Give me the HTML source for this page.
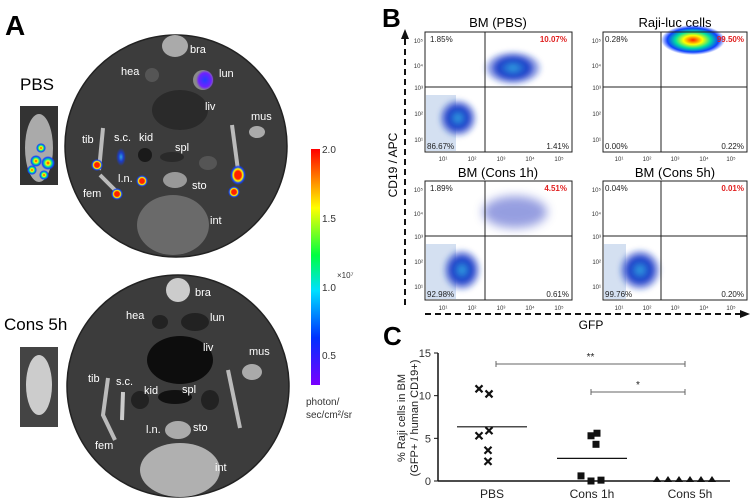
<!DOCTYPE html>
<html><head><meta charset="utf-8"><style>
body{margin:0;background:#fff;width:755px;height:503px;overflow:hidden;font-family:"Liberation Sans",sans-serif}
svg{position:absolute;left:0;top:0}
</style></head><body>
<svg width="755" height="503" viewBox="0 0 755 503">
<defs>
<filter id="bl" x="-50%" y="-50%" width="200%" height="200%"><feGaussianBlur stdDeviation="5"/></filter>
<filter id="bl2" x="-50%" y="-50%" width="200%" height="200%"><feGaussianBlur stdDeviation="2"/></filter>
<linearGradient id="cb" x1="0" y1="1" x2="0" y2="0">
<stop offset="0" stop-color="#7a00ff"/><stop offset="0.2" stop-color="#0030ff"/><stop offset="0.4" stop-color="#00e0ff"/><stop offset="0.55" stop-color="#00ff40"/><stop offset="0.75" stop-color="#ffff00"/><stop offset="1" stop-color="#ff0000"/>
</linearGradient>
<radialGradient id="hot"><stop offset="0" stop-color="#ff2000"/><stop offset="0.4" stop-color="#ff2000"/><stop offset="0.6" stop-color="#ffff00"/><stop offset="0.8" stop-color="#1040ff"/><stop offset="1" stop-color="#1040ff" stop-opacity="0"/></radialGradient>
<radialGradient id="hot2"><stop offset="0" stop-color="#ff2000"/><stop offset="0.3" stop-color="#ffff00"/><stop offset="0.55" stop-color="#00e0a0"/><stop offset="0.8" stop-color="#1040ff"/><stop offset="1" stop-color="#1040ff" stop-opacity="0"/></radialGradient>
<radialGradient id="blue"><stop offset="0" stop-color="#30a0e0"/><stop offset="0.5" stop-color="#1c3cc8"/><stop offset="1" stop-color="#1c3cc8" stop-opacity="0"/></radialGradient>
<radialGradient id="purp"><stop offset="0" stop-color="#2040ff"/><stop offset="0.7" stop-color="#7020ff"/><stop offset="1" stop-color="#7020ff" stop-opacity="0"/></radialGradient>
</defs>

<g>
<text x="5" y="35" font-size="28" font-weight="bold">A</text>
<text x="20" y="90" font-size="17">PBS</text>
<rect x="20" y="106" width="38" height="79" fill="#333"/>
<ellipse cx="39" cy="148" rx="14" ry="34" fill="#aaa"/>
<circle cx="41" cy="148" r="5" fill="url(#hot2)"/><circle cx="36" cy="161" r="6" fill="url(#hot2)"/><circle cx="48" cy="163" r="7" fill="url(#hot2)"/><circle cx="32" cy="170" r="5" fill="url(#hot2)"/><circle cx="44" cy="175" r="5" fill="url(#hot2)"/>
<circle cx="176" cy="146" r="111" fill="#3c3c3c" stroke="#222" stroke-width="1.5"/>
<g fill="#8a8a8a">
<ellipse cx="175" cy="46" rx="13" ry="11" fill="#aaa"/><ellipse cx="152" cy="75" rx="7" ry="7" fill="#555"/><ellipse cx="203" cy="80" rx="10" ry="10"/>
<ellipse cx="180" cy="110" rx="28" ry="20" fill="#2a2a2a"/><ellipse cx="257" cy="132" rx="8" ry="6" fill="#aaa"/>
<path d="M103 128 L99 170" stroke="#bbb" stroke-width="4"/><path d="M100 175 L118 193" stroke="#bbb" stroke-width="4"/>
<path d="M232 125 L238 170" stroke="#bbb" stroke-width="4"/>
<ellipse cx="145" cy="155" rx="7" ry="7" fill="#1a1a1a"/><ellipse cx="172" cy="157" rx="12" ry="5" fill="#2a2a2a"/><ellipse cx="208" cy="163" rx="9" ry="7" fill="#555"/>
<ellipse cx="175" cy="180" rx="12" ry="8" fill="#999"/><ellipse cx="173" cy="225" rx="36" ry="30" fill="#6a6a6a"/>
</g>
<ellipse cx="205" cy="80" rx="9" ry="10" fill="url(#purp)"/>
<ellipse cx="121" cy="157" rx="5" ry="9" fill="url(#blue)"/>
<circle cx="97" cy="165" r="6" fill="url(#hot)"/><circle cx="117" cy="194" r="6" fill="url(#hot)"/>
<circle cx="142" cy="181" r="6" fill="url(#hot)"/><ellipse cx="238" cy="175" rx="8" ry="10" fill="url(#hot)"/><circle cx="234" cy="192" r="6" fill="url(#hot)"/>
<g fill="#fff" font-size="11">
<text x="190" y="53">bra</text><text x="121" y="75">hea</text><text x="219" y="77">lun</text><text x="205" y="110">liv</text><text x="251" y="120">mus</text>
<text x="82" y="143">tib</text><text x="114" y="141">s.c.</text><text x="139" y="141">kid</text><text x="175" y="151">spl</text>
<text x="83" y="197">fem</text><text x="118" y="182">l.n.</text><text x="192" y="189">sto</text><text x="210" y="224">int</text>
</g>
<text x="4" y="330" font-size="17">Cons 5h</text>
<rect x="20" y="347" width="38" height="80" fill="#444"/>
<ellipse cx="39" cy="385" rx="13" ry="30" fill="#ccc"/>
<circle cx="178" cy="386" r="111" fill="#3c3c3c" stroke="#222" stroke-width="1.5"/>
<g fill="#999">
<ellipse cx="178" cy="290" rx="12" ry="12" fill="#ccc"/><ellipse cx="160" cy="322" rx="8" ry="7" fill="#222"/><ellipse cx="195" cy="322" rx="14" ry="9" fill="#222"/>
<ellipse cx="180" cy="360" rx="33" ry="24" fill="#0d0d0d"/><ellipse cx="252" cy="372" rx="10" ry="8" fill="#aaa"/>
<path d="M108 378 L103 415 L115 440" stroke="#bbb" stroke-width="4" fill="none"/><path d="M123 392 L122 420" stroke="#ccc" stroke-width="4"/><path d="M228 370 L240 428" stroke="#bbb" stroke-width="4"/>
<ellipse cx="140" cy="400" rx="9" ry="9" fill="#222"/><ellipse cx="175" cy="397" rx="17" ry="7" fill="#111"/><ellipse cx="210" cy="400" rx="9" ry="10" fill="#222"/>
<ellipse cx="178" cy="430" rx="13" ry="9" fill="#aaa"/><ellipse cx="180" cy="470" rx="40" ry="27" fill="#b0b0b0"/>
</g>
<g fill="#fff" font-size="11">
<text x="195" y="296">bra</text><text x="126" y="319">hea</text><text x="210" y="321">lun</text><text x="203" y="351">liv</text><text x="249" y="355">mus</text>
<text x="88" y="382">tib</text><text x="116" y="385">s.c.</text><text x="144" y="394">kid</text><text x="182" y="393">spl</text>
<text x="95" y="449">fem</text><text x="146" y="433">l.n.</text><text x="193" y="431">sto</text><text x="215" y="471">int</text>
</g>
<rect x="311" y="149" width="9" height="236" fill="url(#cb)"/>
<g font-size="10" fill="#333"><text x="322" y="153">2.0</text><text x="322" y="222">1.5</text><text x="337" y="278" font-size="8">×10⁷</text><text x="322" y="291">1.0</text><text x="322" y="359">0.5</text>
<text x="306" y="405">photon/</text><text x="306" y="418">sec/cm²/sr</text></g>
</g>

<g>
<text x="382" y="27" font-size="26" font-weight="bold">B</text>
<g font-size="13" text-anchor="middle"><text x="498" y="27">BM (PBS)</text><text x="675" y="27">Raji-luc cells</text><text x="498" y="177">BM (Cons 1h)</text><text x="675" y="177">BM (Cons 5h)</text></g>
<g id="plots">
<rect x="426" y="95" width="30" height="56" fill="#b8cce8" opacity="0.6"/>
<ellipse cx="458" cy="118" rx="20" ry="20" fill="url(#blue)" filter="url(#bl2)"/><ellipse cx="513" cy="68" rx="30" ry="18" fill="url(#blue)" filter="url(#bl2)"/>
<ellipse cx="693" cy="40" rx="32" ry="15" fill="url(#hot2)"/>
<rect x="426" y="244" width="30" height="55" fill="#b8cce8" opacity="0.6"/>
<ellipse cx="462" cy="270" rx="20" ry="22" fill="url(#blue)" filter="url(#bl2)"/><ellipse cx="515" cy="212" rx="32" ry="16" fill="#4050c8" opacity="0.55" filter="url(#bl)"/>
<rect x="604" y="244" width="22" height="55" fill="#b8cce8" opacity="0.6"/>
<ellipse cx="640" cy="270" rx="22" ry="22" fill="url(#blue)" filter="url(#bl2)"/>
<g fill="none" stroke="#222" stroke-width="1">
<rect x="425" y="32" width="147" height="120"/><rect x="603" y="32" width="144" height="120"/>
<rect x="425" y="181" width="147" height="119"/><rect x="603" y="181" width="144" height="119"/>
<line x1="485" y1="32" x2="485" y2="152"/><line x1="425" y1="87" x2="572" y2="87"/>
<line x1="661" y1="32" x2="661" y2="152"/><line x1="603" y1="87" x2="747" y2="87"/>
<line x1="485" y1="181" x2="485" y2="300"/><line x1="425" y1="236" x2="572" y2="236"/>
<line x1="661" y1="181" x2="661" y2="300"/><line x1="603" y1="236" x2="747" y2="236"/>
</g>
<g font-size="8" fill="#222">
<text x="430" y="42">1.85%</text><text x="567" y="42" text-anchor="end" fill="#e02020" font-weight="bold">10.07%</text><text x="427" y="149">86.67%</text><text x="569" y="149" text-anchor="end">1.41%</text>
<text x="605" y="42">0.28%</text><text x="744" y="42" text-anchor="end" fill="#e02020" font-weight="bold">99.50%</text><text x="605" y="149">0.00%</text><text x="744" y="149" text-anchor="end">0.22%</text>
<text x="430" y="191">1.89%</text><text x="567" y="191" text-anchor="end" fill="#e02020" font-weight="bold">4.51%</text><text x="427" y="297">92.98%</text><text x="569" y="297" text-anchor="end">0.61%</text>
<text x="605" y="191">0.04%</text><text x="744" y="191" text-anchor="end" fill="#e02020" font-weight="bold">0.01%</text><text x="605" y="297">99.76%</text><text x="744" y="297" text-anchor="end">0.20%</text>
</g>
<g font-size="6" fill="#333" text-anchor="middle">
<text x="443" y="161">10¹</text><text x="472" y="161">10²</text><text x="501" y="161">10³</text><text x="530" y="161">10⁴</text><text x="559" y="161">10⁵</text>
<text x="619" y="161">10¹</text><text x="647" y="161">10²</text><text x="675" y="161">10³</text><text x="704" y="161">10⁴</text><text x="731" y="161">10⁵</text>
<text x="443" y="310">10¹</text><text x="472" y="310">10²</text><text x="501" y="310">10³</text><text x="530" y="310">10⁴</text><text x="559" y="310">10⁵</text>
<text x="619" y="310">10¹</text><text x="647" y="310">10²</text><text x="675" y="310">10³</text><text x="704" y="310">10⁴</text><text x="731" y="310">10⁵</text>
</g>
<g font-size="6" fill="#333" text-anchor="end">
<text x="423" y="43">10⁵</text><text x="423" y="68">10⁴</text><text x="423" y="90">10³</text><text x="423" y="116">10²</text><text x="423" y="142">10¹</text>
<text x="601" y="43">10⁵</text><text x="601" y="68">10⁴</text><text x="601" y="90">10³</text><text x="601" y="116">10²</text><text x="601" y="142">10¹</text>
<text x="423" y="192">10⁵</text><text x="423" y="216">10⁴</text><text x="423" y="239">10³</text><text x="423" y="264">10²</text><text x="423" y="289">10¹</text>
<text x="601" y="192">10⁵</text><text x="601" y="216">10⁴</text><text x="601" y="239">10³</text><text x="601" y="264">10²</text><text x="601" y="289">10¹</text>
</g>
</g>
<line x1="405" y1="305" x2="405" y2="38" stroke="#111" stroke-width="2" stroke-dasharray="6,4"/>
<polygon points="405,29 401,39 409,39" fill="#111"/>
<line x1="425" y1="314" x2="740" y2="314" stroke="#111" stroke-width="2" stroke-dasharray="6,4"/>
<polygon points="750,314 740,310 740,318" fill="#111"/>
<text x="397" y="165" font-size="12" transform="rotate(-90 397 165)" text-anchor="middle">CD19 / APC</text>
<text x="591" y="329" font-size="12" text-anchor="middle">GFP</text>
</g>

<g>
<text x="383" y="345" font-size="26" font-weight="bold">C</text>
<g id="chartC"></g>
</g>
</svg>
<script>
const groups=["PBS","Cons 1h","Cons 5h"];
const pbsVals=[10.8,10.2,5.9,5.3,3.6,2.3];
const cons1Vals=[5.3,5.6,4.3,0.6,0,0.1];
const cons5Vals=[0,0,0,0,0,0];
const yTicks=[0,5,10,15];
const NS="http://www.w3.org/2000/svg";
const g=document.getElementById("chartC");
const x0=438,x1=730,yb=481,yt=353;
const ys=v=>yb-(v/15)*(yb-yt);
const xc=[492,592,690];
function mk(t,a){const e=document.createElementNS(NS,t);for(const k in a)e.setAttribute(k,a[k]);g.appendChild(e);return e;}
let e=mk("line",{x1:x0,y1:yt,x2:x0,y2:yb,stroke:"#111","stroke-width":1.5});


e=mk("line",{x1:x0,y1:yb,x2:x1,y2:yb,stroke:"#111","stroke-width":1.5});


yTicks.forEach(v=>{mk("line",{x1:x0-4,y1:ys(v),x2:x0,y2:ys(v),stroke:"#111"});
 const t=mk("text",{x:x0-7,y:ys(v)+4,"font-size":11,"text-anchor":"end",fill:"#333"});t.textContent=v;
 
 });
groups.forEach((gname,i)=>{const t=mk("text",{x:xc[i],y:498,"font-size":12,"text-anchor":"middle",fill:"#222"});t.textContent=gname;
 
 });
const yl=mk("text",{x:0,y:0,"font-size":11,"text-anchor":"middle",fill:"#222",transform:"translate(405 418) rotate(-90)"});
yl.textContent="% Raji cells in BM";


const yl2=mk("text",{x:0,y:0,"font-size":11,"text-anchor":"middle",fill:"#222",transform:"translate(418 418) rotate(-90)"});
yl2.textContent="(GFP+ / human CD19+)";


const offs=[-5,5,5,-5,0,0];
const mean=a=>a.reduce((s,v)=>s+v,0)/a.length;
[pbsVals,cons1Vals,cons5Vals].forEach((vals,i)=>{
 const m=mean(vals);
 if(i<2){const l=mk("line",{x1:xc[i]-35,x2:xc[i]+35,y1:ys(m),y2:ys(m),stroke:"#111","stroke-width":1.2});
 
 }
 vals.forEach((v,j)=>{
  const y=ys(v);let p;
  if(i===0){const cx=xc[0]-8+offs[j]+ (j>3?4:0);p=mk("path",{d:`M${cx-3.5} ${y-3.5}L${cx+3.5} ${y+3.5}M${cx+3.5} ${y-3.5}L${cx-3.5} ${y+3.5}`,stroke:"#111","stroke-width":2.2});}
  else if(i===1){const cx=[591,597,596,581,591,601][j];p=mk("rect",{x:cx-3.5,y:y-3.5,width:7,height:7,fill:"#111"});}
  else{const cx=657+j*11;p=mk("polygon",{points:`${cx},${y-5} ${cx-4},${y+1} ${cx+4},${y+1}`,fill:"#111"});}
  
  
 });
});
function bracket(xa,xb,y,lab){mk("line",{x1:xa,x2:xb,y1:y,y2:y,stroke:"#666"});mk("line",{x1:xa,x2:xa,y1:y-3,y2:y+3,stroke:"#666"});mk("line",{x1:xb,x2:xb,y1:y-3,y2:y+3,stroke:"#666"});
 const t=mk("text",{x:(xa+xb)/2,y:y-4,"font-size":10,"text-anchor":"middle",fill:"#222"});t.textContent=lab;
 
 }
bracket(496,685,364,"**");bracket(591,685,392,"*");
</script>
</body></html>
